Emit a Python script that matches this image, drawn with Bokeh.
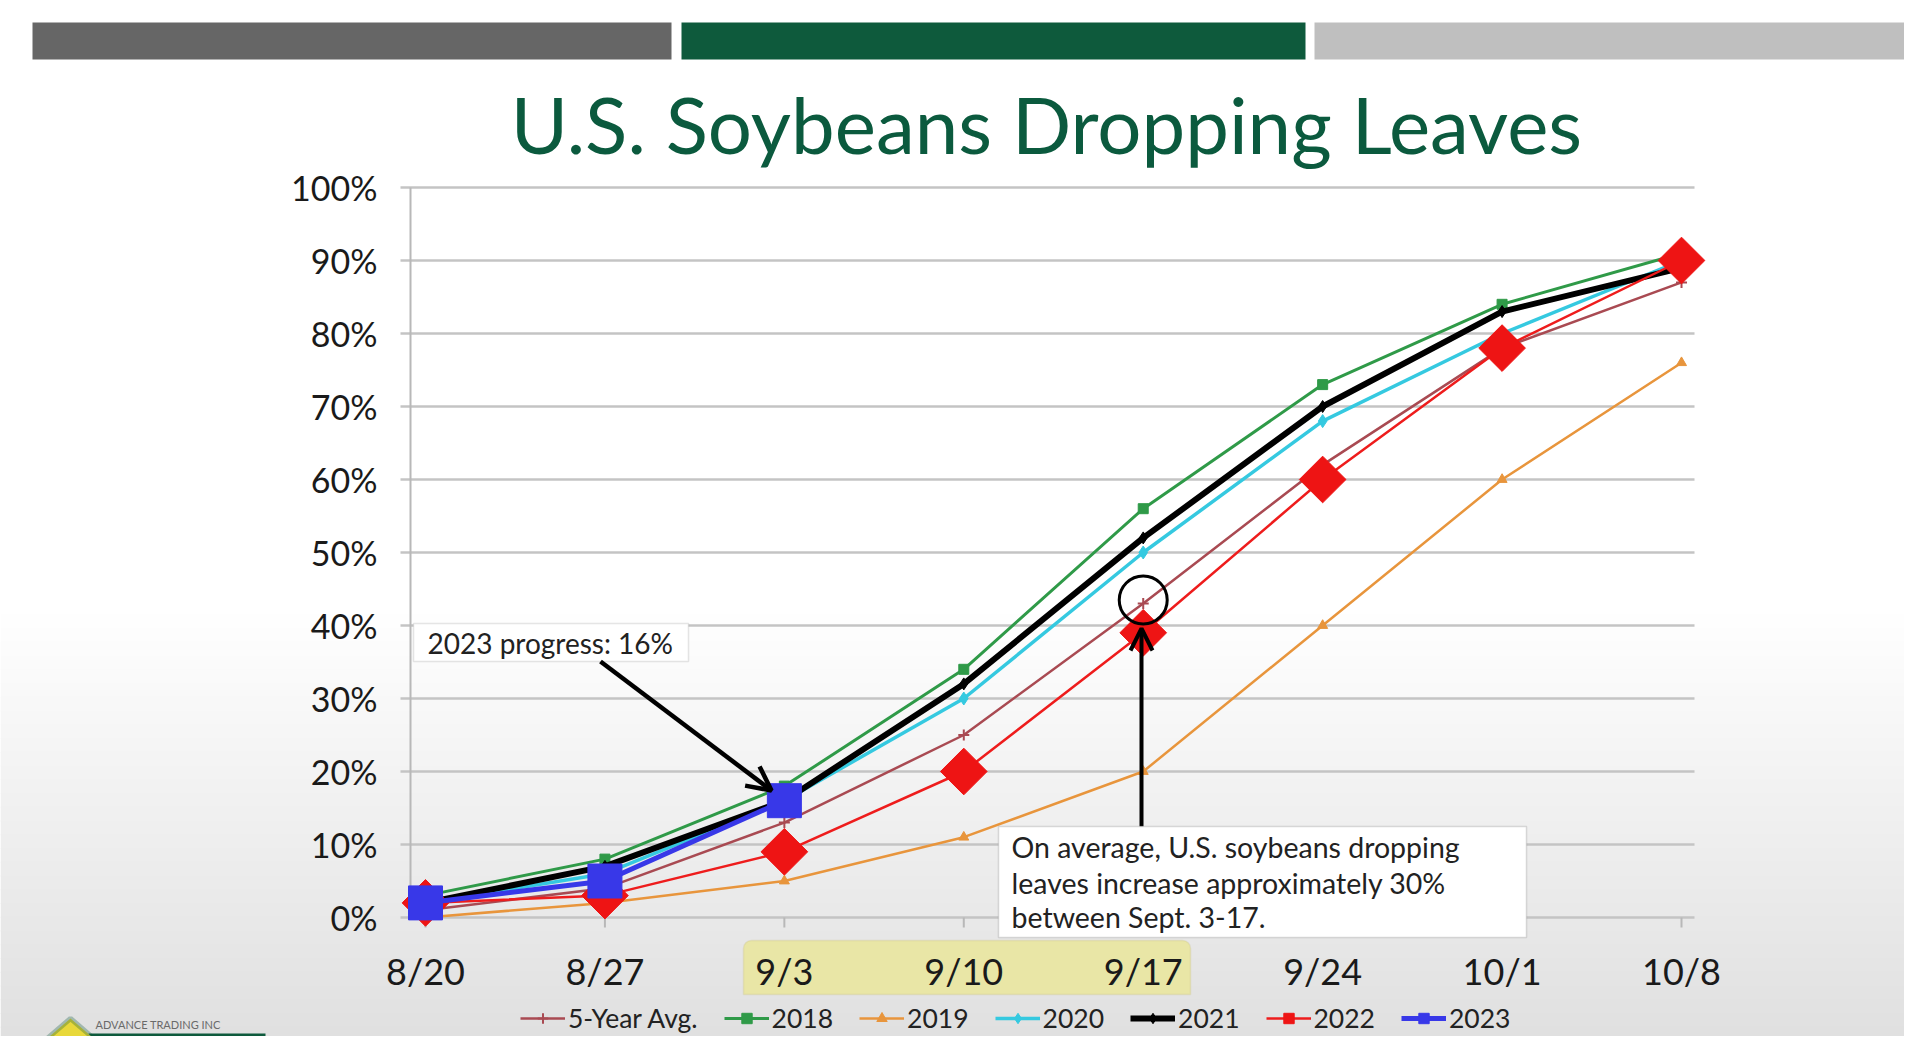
import math
from bokeh.plotting import figure
from bokeh.models import (Label, BoxAnnotation, PolyAnnotation, Arrow, OpenHead,
                          Legend, LegendItem, Range1d)
from bokeh.core.properties import value
from bokeh.embed import file_html
from bokeh.resources import INLINE

# ---------------- data ----------------
weeks = ["8/20", "8/27", "9/3", "9/10", "9/17", "9/24", "10/1", "10/8"]
avg5 = [1, 4, 13, 25, 43, 62, 78, 87]
y2018 = [3, 8, 18, 34, 56, 73, 84, 91]
y2019 = [0, 2, 5, 11, 20, 40, 60, 76]
y2020 = [2, 6, 16, 30, 50, 68, 80, 90]
y2021 = [2, 7, 16, 32, 52, 70, 83, 89]
y2022 = [2, 3, 9, 20, 39, 60, 78, 90]
y2023 = [2, 5, 16]
y_ticks = [0, 10, 20, 30, 40, 50, 60, 70, 80, 90, 100]
y_tick_labels = ["0%", "10%", "20%", "30%", "40%", "50%", "60%", "70%", "80%", "90%", "100%"]
series_names = ["5-Year Avg.", "2018", "2019", "2020", "2021", "2022", "2023"]
title_text = "U.S. Soybeans Dropping Leaves"
note1 = "2023 progress: 16%"
note2 = ["On average, U.S. soybeans dropping",
         "leaves increase approximately 30%",
         "between Sept. 3-17."]
logo_text = "ADVANCE TRADING INC"

x = list(range(len(weeks)))

FONT = "Lato"
W, H = 1904, 1036

# scale: category i at pixel x 425 + 179.43*i ; value v at pixel y 917 - 7.3*v
PX_X, PX_Y = 179.43, 7.3
X0_PX, Y0_PX = 425, 917
x_start = -X0_PX / PX_X
x_end = x_start + W / PX_X
y_end = (Y0_PX) / PX_Y
y_start = y_end - H / PX_Y

p = figure(width=W, height=H, output_backend="svg", toolbar_location=None,
           x_range=Range1d(x_start, x_end), y_range=Range1d(y_start, y_end),
           min_border=0, background_fill_color="white", border_fill_color="white",
           outline_line_color=None)
p.title.visible = False
p.axis.visible = False
p.grid.visible = False

# pixel coords (from top-left) -> screen coords (frame = whole canvas, origin bottom-left)
def sx(px):
    return px

def sy(py):
    return H - py

def box(l, t, r, b, **kw):
    return BoxAnnotation(left=sx(l), right=sx(r), top=sy(t), bottom=sy(b),
                         left_units="screen", right_units="screen",
                         top_units="screen", bottom_units="screen", **kw)

# background gradient toward the bottom
n_bands = 32
top_py, bot_py = 600, 1040
for i in range(n_bands):
    t = (i + 0.5) / n_bands
    c = int(round(255 - 31 * t))
    y0 = top_py + (bot_py - top_py) * i / n_bands
    y1 = top_py + (bot_py - top_py) * (i + 1) / n_bands + 1
    p.add_layout(box(0, y0, 1920, y1, fill_color=(c, c, c), fill_alpha=1.0,
                     line_color=None, level="image"))

# top bars
for (l, r, col) in [(32, 671, "#666666"), (681, 1305, "#0e5a3c"), (1314, 1920, "#bfbfbf")]:
    p.add_layout(box(l, 22, r, 59, fill_color=col, fill_alpha=1.0, line_color=None,
                     level="underlay"))

# title
p.add_layout(Label(x=sx(1046), y=sy(123), x_units="screen", y_units="screen",
                   text=title_text, text_align="center", text_baseline="middle",
                   text_font=FONT, text_font_size="78px", text_color="#0b5a3e"))

# highlight behind the 9/3 - 9/17 labels
p.add_layout(box(743, 940, 1190, 994, fill_color="#e9e6a6", fill_alpha=1.0,
                 line_color="#c9c38a", line_width=1.5,
                 border_radius=dict(top_left=8, top_right=8, bottom_left=0, bottom_right=0),
                 level="underlay"))

# ----- axes drawn through the data scales -----
axis_x = (410 - X0_PX) / PX_X          # y axis position in category units
tick_len = 10 / PX_X
grid_right = (1694 - X0_PX) / PX_X
p.segment(x0=[axis_x - tick_len] * len(y_ticks), y0=y_ticks,
          x1=[grid_right] * len(y_ticks), y1=y_ticks,
          line_color="#c4c4c4", line_width=2.5, level="underlay")
p.segment(x0=[axis_x], y0=[y_ticks[0]], x1=[axis_x], y1=[y_ticks[-1]],
          line_color="#b8b8b8", line_width=2, level="underlay")
p.segment(x0=x, y0=[0] * len(x), x1=x, y1=[-10 / PX_Y] * len(x),
          line_color="#b8b8b8", line_width=2, level="underlay")
p.text(x=[axis_x] * len(y_ticks), y=y_ticks, text=y_tick_labels, x_offset=-33,
       text_align="right", text_baseline="middle", text_font=value(FONT),
       text_font_size="34px", text_color="#1a1a1a")
p.text(x=x, y=[0] * len(x), text=weeks, y_offset=53, text_align="center",
       text_baseline="middle", text_font=value(FONT), text_font_size="36px",
       text_color="#1a1a1a")

# ----- series -----
r19l = p.line(x, y2019, line_color="#e8953c", line_width=2.5)
r19m = p.scatter(x, y2019, marker="triangle", size=10, color="#e8953c")
r5l = p.line(x, avg5, line_color="#a94a52", line_width=2.5)
r5m = p.scatter(x, avg5, marker="cross", size=11, line_width=2, color="#a94a52")
r20l = p.line(x, y2020, line_color="#35c9e0", line_width=3.5)
r20m = p.scatter(x, y2020, marker="diamond", size=13, color="#35c9e0")
r18l = p.line(x, y2018, line_color="#2f9a48", line_width=3)
r18m = p.scatter(x, y2018, marker="square", size=10, color="#2f9a48")
r21l = p.line(x, y2021, line_color="black", line_width=6)
r21m = p.scatter(x, y2021, marker="diamond", size=12, color="black")
r22l = p.line(x, y2022, line_color="#ee1c1c", line_width=2.5)
r22m = p.scatter(x, y2022, marker="square", angle=math.pi / 4, size=33, color="#ee1414")
n23 = len(y2023)
r23l = p.line(x[:n23], y2023, line_color="#3838e8", line_width=5)
r23m = p.scatter(x[:n23], y2023, marker="square", size=34, color="#3838e8")

# circle around the 5-year avg at 9/17
p.scatter([x[4]], [avg5[4] + 0.5], marker="circle", size=48, fill_color=None,
          line_color="black", line_width=3)

# annotation 1
p.add_layout(box(413, 623, 688, 661, fill_color="white", fill_alpha=1.0,
                 line_color="#a8a8a8", line_width=1.5))
p.add_layout(Label(x=sx(427), y=sy(642), x_units="screen", y_units="screen", text=note1,
                   text_baseline="middle", text_font=FONT, text_font_size="28px",
                   text_color="#222222"))
p.add_layout(Arrow(x_start=sx(600), y_start=sy(661), x_end=sx(771), y_end=sy(790),
                   start_units="screen", end_units="screen", line_width=4.5,
                   line_color="black",
                   end=OpenHead(size=24, line_width=4.5, line_color="black")))

# annotation 2
p.add_layout(Arrow(x_start=sx(1141), y_start=sy(826), x_end=sx(1141), y_end=sy(628),
                   start_units="screen", end_units="screen", line_width=4,
                   line_color="black",
                   end=OpenHead(size=22, line_width=4, line_color="black")))
p.add_layout(box(998, 826, 1526, 937, fill_color="white", fill_alpha=1.0,
                 line_color="#8c8c8c", line_width=1.5))
for line_txt, cy in zip(note2, [846, 882, 916]):
    p.add_layout(Label(x=sx(1011), y=sy(cy), x_units="screen", y_units="screen",
                       text=line_txt, text_baseline="middle", text_font=FONT,
                       text_font_size="28.5px", text_color="#222222"))

# logo (partial, bottom-left)
p.add_layout(box(88, 1033, 265, 1040, fill_color="#0e5a3c", fill_alpha=1.0, line_color=None))
p.add_layout(PolyAnnotation(xs=[sx(42), sx(70), sx(98)], ys=[sy(1042), sy(1018), sy(1042)],
                            xs_units="screen", ys_units="screen", fill_color="#e8d83a",
                            fill_alpha=1.0, line_color="#0e5a3c", line_width=5))
p.add_layout(Label(x=sx(95), y=sy(1024), x_units="screen", y_units="screen",
                   text=logo_text, text_baseline="middle", text_font=FONT,
                   text_font_size="11px", text_color="#6a6a6a"))

# legend
items = [LegendItem(label=series_names[0], renderers=[r5l, r5m]),
         LegendItem(label=series_names[1], renderers=[r18l, r18m]),
         LegendItem(label=series_names[2], renderers=[r19l, r19m]),
         LegendItem(label=series_names[3], renderers=[r20l, r20m]),
         LegendItem(label=series_names[4], renderers=[r21l, r21m]),
         LegendItem(label=series_names[5], renderers=[r22l, r22m]),
         LegendItem(label=series_names[6], renderers=[r23l, r23m])]
legend = Legend(items=items, orientation="horizontal", location=(sx(520), sy(1034)),
                padding=0, margin=0, spacing=26, glyph_width=45, glyph_height=26,
                label_standoff=3, label_text_font=FONT, label_text_font_size="26.5px",
                label_text_color="#222222", background_fill_alpha=0,
                border_line_alpha=0)
p.add_layout(legend)

open("out.html", "w").write(file_html(p, INLINE))
